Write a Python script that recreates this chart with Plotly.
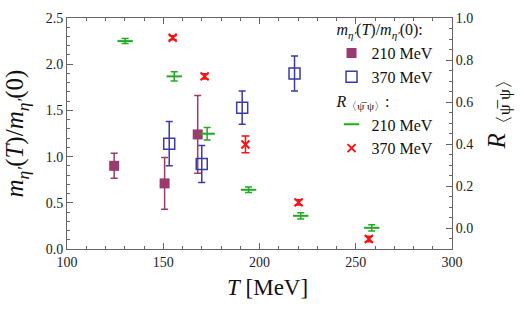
import plotly.graph_objects as go

# m_eta'(T)/m_eta'(0), 210 MeV
T_m210 = [124.5, 150.7, 167.9]
m210 = [0.90, 0.71, 1.24]
m210_err = [0.135, 0.28, 0.42]

# m_eta'(T)/m_eta'(0), 370 MeV
T_m370 = [153.1, 170.0, 191.0, 218.2]
m370 = [1.14, 0.92, 1.53, 1.90]
m370_err = [0.24, 0.20, 0.18, 0.19]

# R_<psibar psi>, 210 MeV
T_r210 = [130.2, 155.7, 172.8, 194.3, 221.4, 258.3]
r210 = [0.89, 0.722, 0.449, 0.182, 0.058, 0.001]
r210_err = [0.012, 0.022, 0.03, 0.013, 0.015, 0.015]

# R_<psibar psi>, 370 MeV
T_r370 = [154.9, 171.5, 192.7, 220.3, 256.8]
r370 = [0.906, 0.722, 0.398, 0.122, -0.052]
r370_err = [0.01, 0.012, 0.04, 0.012, 0.013]

x_ticks = [100, 150, 200, 250, 300]

FONT = "Liberation Serif, Times New Roman, DejaVu Serif, serif"
C_MAG = "#9B3A6E"
C_BLUE = "#3A3AA8"
C_GREEN = "#22AA22"
C_RED = "#FF1010"

meta_title = "<i>m</i><sub><i>η′</i></sub>(<i>T</i>)/<i>m</i><sub><i>η′</i></sub>(0)"
r_title = "<i>R</i><sub>〈ψ̅ ψ〉</sub>"

fig = go.Figure()

fig.add_trace(go.Scatter(
    x=T_m210, y=m210, mode="markers", name="210 MeV",
    legendgroup="m", legendgrouptitle=dict(text=meta_title + ":"),
    marker=dict(symbol="square", size=10, color=C_MAG),
    error_y=dict(type="data", array=m210_err, color=C_MAG, thickness=1.5, width=3.5),
))
fig.add_trace(go.Scatter(
    x=T_m370, y=m370, mode="markers", name="370 MeV",
    legendgroup="m",
    marker=dict(symbol="square-open", size=11, color=C_BLUE, line=dict(width=1.5)),
    error_y=dict(type="data", array=m370_err, color=C_BLUE, thickness=1.5, width=3.5),
))
fig.add_trace(go.Scatter(
    x=T_r210, y=r210, mode="markers", name="210 MeV", yaxis="y2",
    legendgroup="r", legendgrouptitle=dict(text=r_title + ":"),
    marker=dict(symbol="line-ew", size=11, color=C_GREEN, line=dict(width=2, color=C_GREEN)),
    error_y=dict(type="data", array=r210_err, color=C_GREEN, thickness=1.5, width=3.5),
))
fig.add_trace(go.Scatter(
    x=T_r370, y=r370, mode="markers", name="370 MeV", yaxis="y2",
    legendgroup="r",
    marker=dict(symbol="x-thin", size=8, color=C_RED, line=dict(width=2, color=C_RED)),
    error_y=dict(type="data", array=r370_err, color=C_RED, thickness=1.5, width=4),
))

axis_common = dict(
    showgrid=False, zeroline=False, showline=True, linecolor="#666", linewidth=1,
    ticks="inside", ticklen=6, tickcolor="#666", tickwidth=1,
    tickfont=dict(family=FONT, size=14, color="#222"),
)

fig.update_layout(
    width=521, height=311,
    margin=dict(l=67, r=69, t=12, b=62),
    paper_bgcolor="white", plot_bgcolor="white",
    font=dict(family=FONT, color="#111"),
    showlegend=True,
    legend=dict(
        x=0.965, y=1.025, xanchor="right", yanchor="top",
        bgcolor="rgba(255,255,255,0)",
        font=dict(family=FONT, size=16, color="#111"),
        grouptitlefont=dict(family=FONT, size=16, color="#111"),
        traceorder="grouped", tracegroupgap=0, itemwidth=30,
    ),
    xaxis=dict(
        range=[100, 300], tickvals=x_ticks, mirror="ticks",
        minor=dict(dtick=10, ticks="inside", ticklen=3, tickcolor="#666"),
        **axis_common,
    ),
    yaxis=dict(
        range=[0, 2.5], tick0=0, dtick=0.5, tickformat=".1f", mirror=False,
        minor=dict(dtick=0.1, ticks="inside", ticklen=3, tickcolor="#666"),
        **axis_common,
    ),
    yaxis2=dict(
        range=[-0.1, 1.0], tick0=0, dtick=0.2, tickformat=".1f",
        overlaying="y", side="right",
        minor=dict(tick0=0, dtick=0.05, ticks="inside", ticklen=3, tickcolor="#666"),
        **axis_common,
    ),
    annotations=[
        dict(text=meta_title, xref="paper", yref="paper", x=-0.13, y=0.5,
             xanchor="center", yanchor="middle", showarrow=False, textangle=-90,
             font=dict(family=FONT, size=25, color="#111")),
        dict(text="<i>T</i> [MeV]", xref="paper", yref="paper", x=0.52, y=-0.165,
             xanchor="center", yanchor="middle", showarrow=False,
             font=dict(family=FONT, size=23, color="#111")),
        dict(text=r_title, xref="paper", yref="paper", x=1.12, y=0.6,
             xanchor="center", yanchor="middle", showarrow=False, textangle=-90,
             font=dict(family=FONT, size=25, color="#111")),
    ],
)

fig.write_html("out.html")
